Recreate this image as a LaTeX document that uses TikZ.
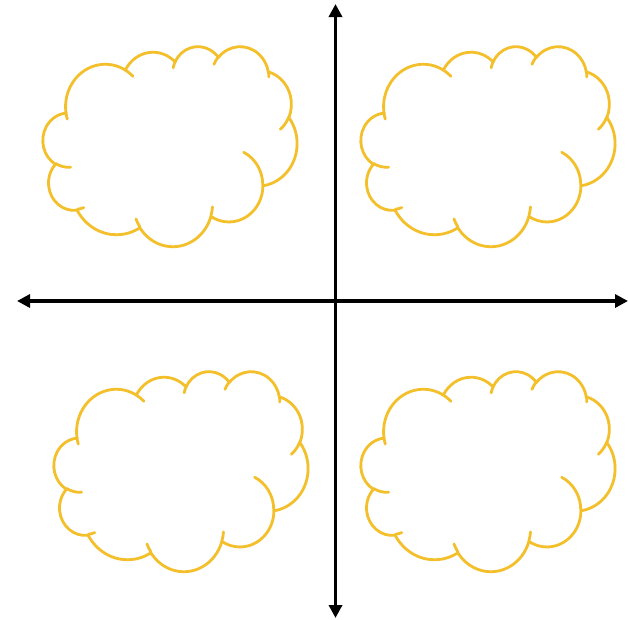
\documentclass[tikz,border=0pt]{standalone}
\usetikzlibrary{arrows.meta}
\definecolor{cloudgold}{RGB}{243,192,44}
\newcommand\ooconv[4]{%
  \pgfmathsetmacro\ooA{#3}%
  \pgfmathsetmacro\ooB{#3+#4}%
  \pgfmathparse{\ooA + mod(atan2(#1*sin(\ooA), #2*cos(\ooA)) - \ooA + 540, 360) - 180}%
  \global\let\ooS\pgfmathresult
  \pgfmathparse{\ooB + mod(atan2(#1*sin(\ooB), #2*cos(\ooB)) - \ooB + 540, 360) - 180}%
  \global\let\ooE\pgfmathresult
}
\newcommand\ooarc[4]{\pgfextra{\ooconv{#1}{#2}{#3}{#4}} arc[x radius=#1, y radius=#2, start angle=\ooS, end angle=\ooE]}
\tikzset{
  cloudline/.style={draw=cloudgold, line width=2.8pt, line cap=round, line join=round},
  axisline/.style={draw=black, line width=3.4pt, {Triangle[length=13pt,width=13pt]}-{Triangle[length=13pt,width=13pt]}}
}
\newcommand\drawcloud[4]{%
\begin{scope}[shift={(#1,#2)}, xscale=#3, yscale=#4]
  \draw[cloudline, fill=white] (39.00,143.70)
    \ooarc{67.53}{91.90}{-190.48748}{123.78053}
    \ooarc{53.33}{72.67}{-144.10238}{89.94523}
    \ooarc{43.65}{59.45}{-145.80792}{99.72302}
    \ooarc{48.57}{65.95}{-130.98607}{117.24173}
    \ooarc{53.33}{72.73}{-78.70888}{109.02692}
    \ooarc{67.75}{92.20}{-46.26725}{130.269}
    \ooarc{57.85}{78.67}{0.62502}{114.03333}
    \ooarc{67.52}{92.15}{22.4516}{115.17255}
    \ooarc{77.20}{105.43}{66.24263}{75.71102}
    \ooarc{43.60}{59.18}{-274.94208}{146.73557}
    \ooarc{43.45}{59.45}{-246.8285}{152.51885}
    -- cycle;
  \draw[cloudline]
    (46.93,261.77) \ooarc{43.45}{59.45}{86.742}{26.4295}
    (69.28,348.99) \ooarc{43.60}{59.18}{73.61047}{11.44747}
    (164.78,390.90) \ooarc{67.52}{92.15}{137.62415}{14.0811}
    (288.27,347.51) \ooarc{67.52}{92.15}{6.45327}{15.99835}
    (341.29,229.54) \ooarc{57.85}{78.67}{-70.29235}{70.91737}
    (417.98,153.54) \ooarc{53.33}{72.73}{30.31803}{27.7515}
    (383.24,54.26) \ooarc{48.57}{65.95}{-13.74433}{14.8589}
    (290.78,39.52) \ooarc{48.57}{65.95}{-149.18145}{18.19537}
    (221.41,47.20) \ooarc{43.65}{59.45}{-163.49427}{17.68635}
    (140.00,51.92) \ooarc{67.53}{91.90}{-66.70695}{12.31935}
    (41.27,157.89) \ooarc{67.53}{91.90}{157.65435}{11.85817};
\end{scope}}
\begin{document}
\begin{tikzpicture}[x=1pt, y=-1pt]
  \useasboundingbox[fill=white] (0,0) rectangle (628,619);
  \drawcloud{43}{46}{0.58796}{0.46296}
  \drawcloud{361}{46}{0.58796}{0.46296}
  \drawcloud{54}{371}{0.58796}{0.46296}
  \drawcloud{361}{371}{0.58796}{0.46296}
  \coordinate (ytop) at (335.5,4);
  \coordinate (ybot) at (335.5,618);
  \coordinate (xleft) at (17,301);
  \coordinate (xright) at (628,301);
  \draw[axisline] (ytop) -- (ybot);
  \draw[axisline] (xleft) -- (xright);
\end{tikzpicture}
\end{document}
